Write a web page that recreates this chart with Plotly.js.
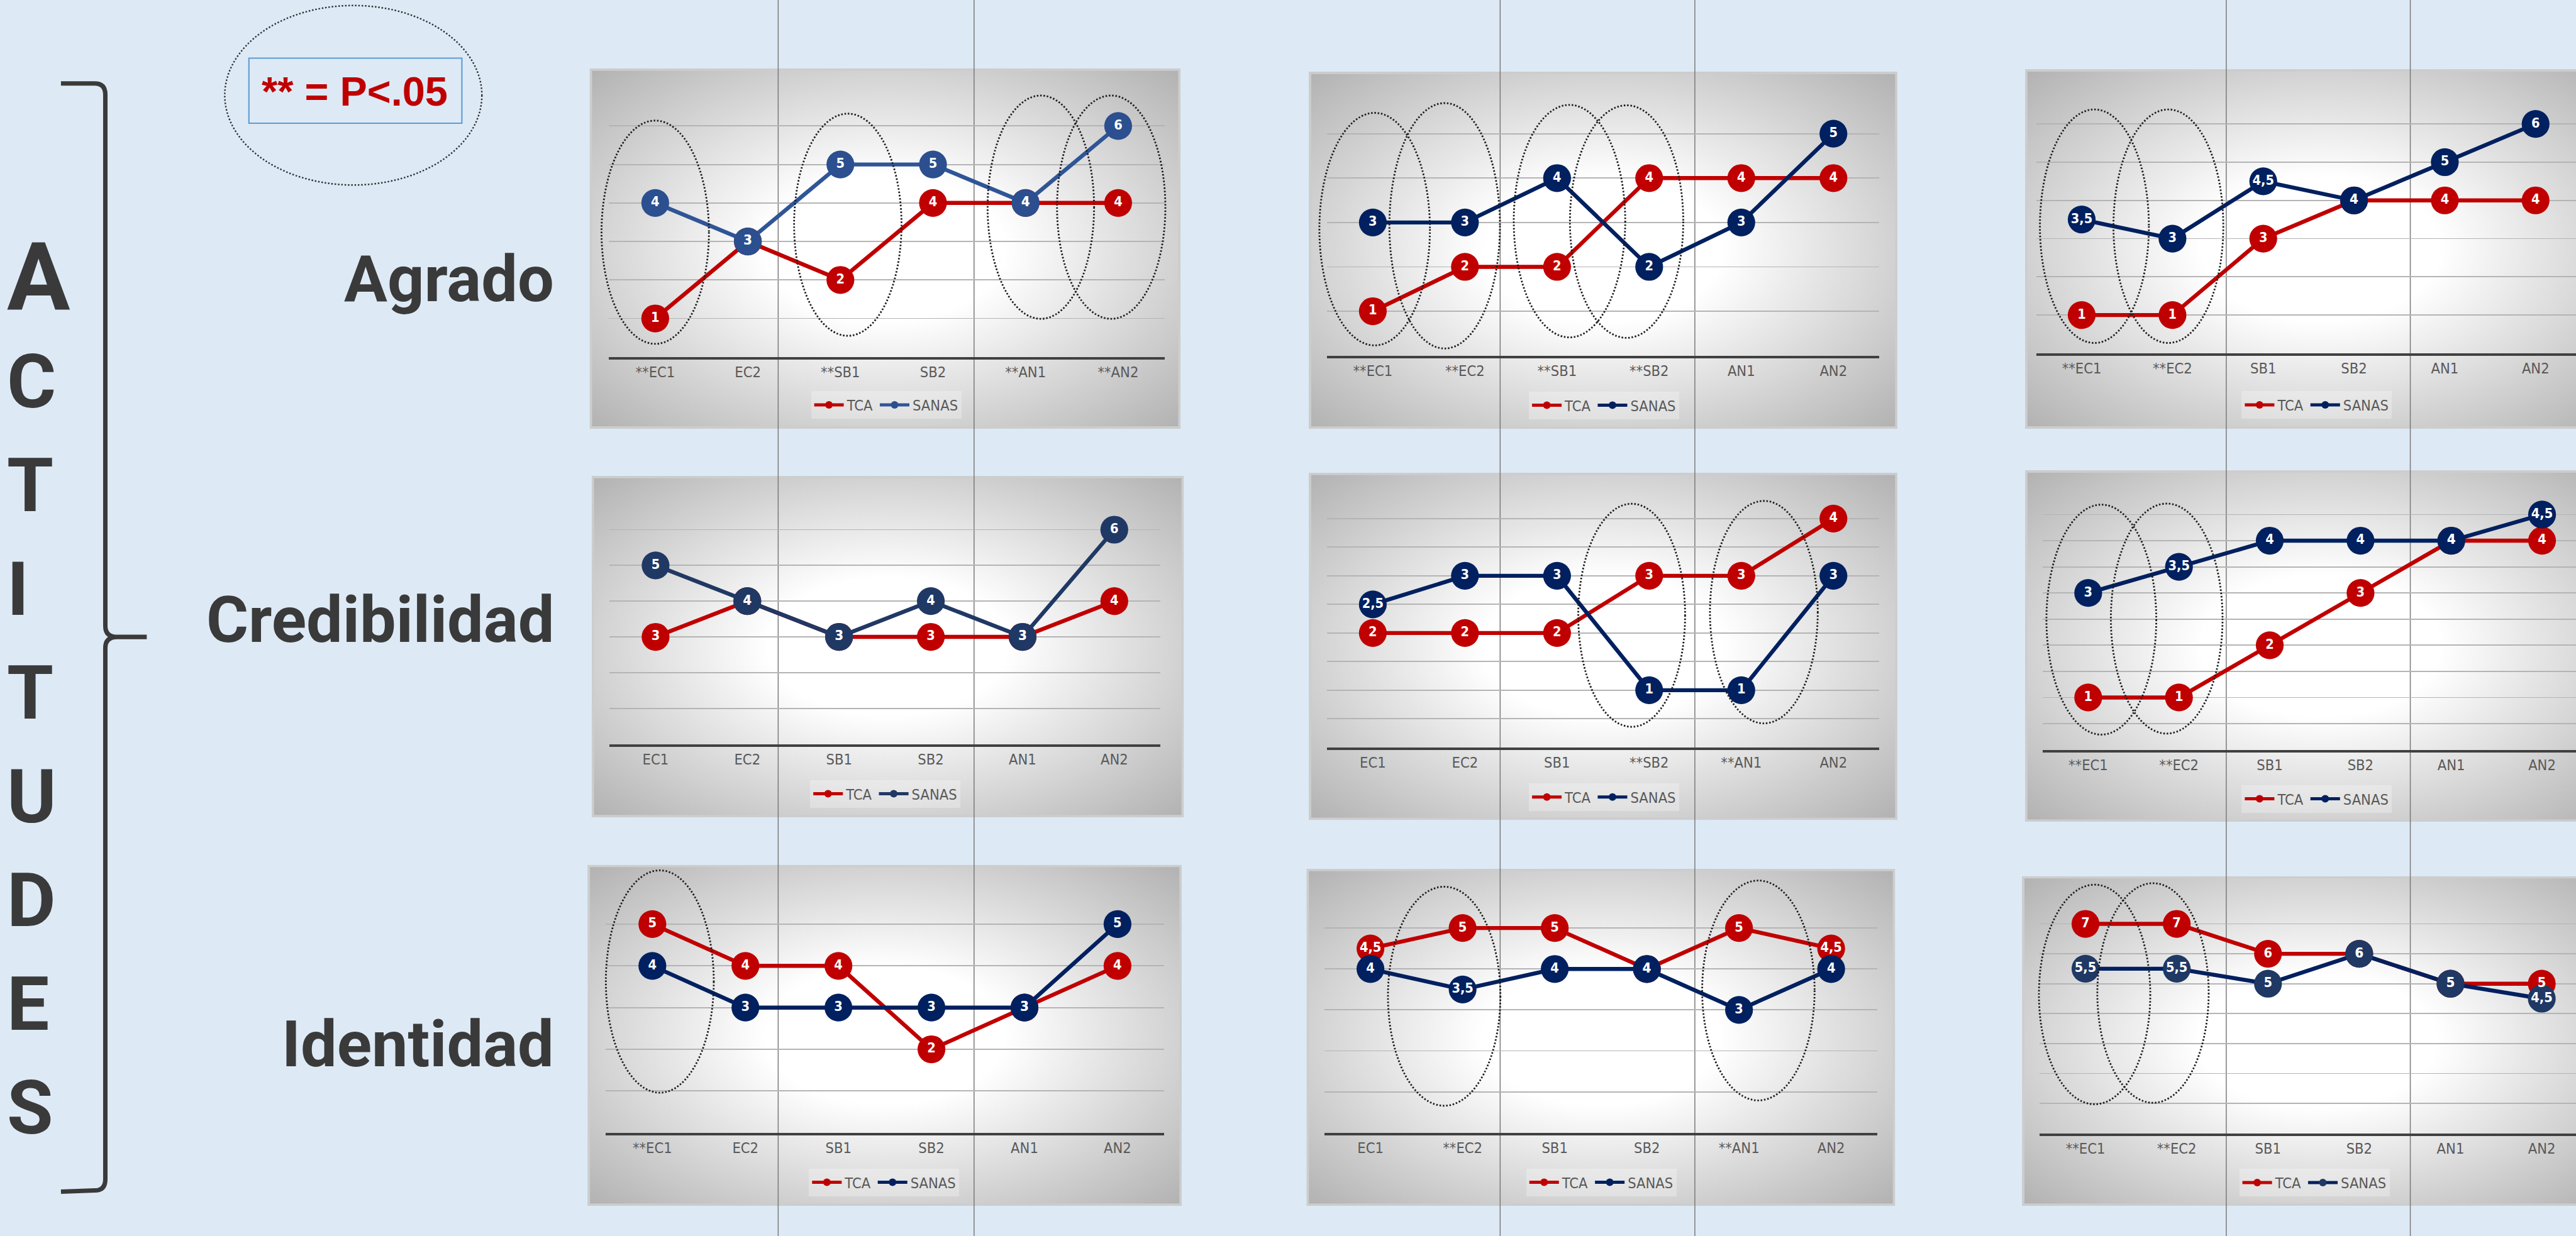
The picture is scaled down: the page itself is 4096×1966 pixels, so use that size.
<!DOCTYPE html>
<html><head><meta charset="utf-8">
<script src="https://cdn.plot.ly/plotly-3.0.1.min.js"></script>
<style>html,body{margin:0;padding:0;background:#DDEAF6;overflow:hidden}#chart{width:4096px;height:1966px}</style>
</head><body><div id="chart"></div>
<script>
// ---------- data ----------
const seriesNames = ["TCA", "SANAS"];
const rowLabels = ["Agrado", "Credibilidad", "Identidad"];
const sideTitle = "ACTITUDES";
const noteText = "** = P<.05";

const catsAgrado1 = ["**EC1","EC2","**SB1","SB2","**AN1","**AN2"];
const tcaAgrado1 = [1,3,2,4,4,4];
const sanasAgrado1 = [4,3,5,5,4,6];
const catsAgrado2 = ["**EC1","**EC2","**SB1","**SB2","AN1","AN2"];
const tcaAgrado2 = [1,2,2,4,4,4];
const sanasAgrado2 = [3,3,4,2,3,5];
const catsAgrado3 = ["**EC1","**EC2","SB1","SB2","AN1","AN2"];
const tcaAgrado3 = [1,1,3,4,4,4];
const sanasAgrado3 = [3.5,3,4.5,4,5,6];

const catsCred1 = ["EC1","EC2","SB1","SB2","AN1","AN2"];
const tcaCred1 = [3,4,3,3,3,4];
const sanasCred1 = [5,4,3,4,3,6];
const catsCred2 = ["EC1","EC2","SB1","**SB2","**AN1","AN2"];
const tcaCred2 = [2,2,2,3,3,4];
const sanasCred2 = [2.5,3,3,1,1,3];
const catsCred3 = ["**EC1","**EC2","SB1","SB2","AN1","AN2"];
const tcaCred3 = [1,1,2,3,4,4];
const sanasCred3 = [3,3.5,4,4,4,4.5];

const catsIdent1 = ["**EC1","EC2","SB1","SB2","AN1","AN2"];
const tcaIdent1 = [5,4,4,2,3,4];
const sanasIdent1 = [4,3,3,3,3,5];
const catsIdent2 = ["EC1","**EC2","SB1","SB2","**AN1","AN2"];
const tcaIdent2 = [4.5,5,5,4,5,4.5];
const sanasIdent2 = [4,3.5,4,4,3,4];
const catsIdent3 = ["**EC1","**EC2","SB1","SB2","AN1","AN2"];
const tcaIdent3 = [7,7,6,6,5,5];
const sanasIdent3 = [5.5,5.5,5,6,5,4.5];

// ---------- layout helpers (reference pixel space 4353 x 2089) ----------
const W = 4353, H = 2089, S = 4096 / 4353;
const X = px => px / W;
const Y = py => 1 - py / H;
const RED = '#C00000';
const NAVY = '#002060';
const FN = "'DejaVu Sans Condensed', 'Liberation Sans Narrow', 'Liberation Sans', sans-serif";
const FB = "Roboto, 'Liberation Sans', sans-serif";
const fmt = v => String(v).replace('.', ',');

const panels = [
  {cats:catsAgrado1, tca:tcaAgrado1, sanas:sanasAgrado1, plot:[1029,1967.7,147.8,603.3], ymax:7, dtick:1, xmax:5.5,
   box:[996.5,1995,115.5,724.5], leg:[1497.5,684.5], sl:'#2F5597', sm:'#2B4F8F',
   ell:[[-0.58,0.58,0.34,6.14],[1.50,2.66,0.55,6.32],[3.59,4.74,0.99,6.79],[4.34,5.51,0.99,6.79]]},
  {cats:catsAgrado2, tca:tcaAgrado2, sanas:sanasAgrado2, plot:[2242,3176,151,601], ymax:6, dtick:1, xmax:5.5,
   box:[2211.8,3206.4,121.2,724.7], leg:[2710.6,685], sl:NAVY, sm:NAVY,
   ell:[[-0.58,0.62,0.23,5.47],[0.18,1.38,0.16,5.69],[1.53,2.74,0.41,5.65],[2.14,3.37,0.40,5.64]]},
  {cats:catsAgrado3, tca:tcaAgrado3, sanas:sanasAgrado3, plot:[3441,4353,144.9,597.1], ymax:7, dtick:1, xmax:5.445,
   box:[3422,4420,117,724.5], leg:[3915,684.5], sl:NAVY, sm:NAVY,
   ell:[[-0.46,0.74,0.27,6.38],[0.35,1.56,0.27,6.38]]},
  {cats:catsCred1, tca:tcaCred1, sanas:sanasCred1, plot:[1030.3,1960.5,834.8,1257.6], ymax:7, dtick:1, xmax:5.5,
   box:[999.8,2000.4,804.5,1381.2], leg:[1496,1341.8], sl:'#203864', sm:'#203864', ell:[]},
  {cats:catsCred2, tca:tcaCred2, sanas:sanasCred2, plot:[2242,3176,828.2,1263.2], ymax:4.5, dtick:0.5, xmax:5.5,
   box:[2211.8,3206.4,799,1385.8], leg:[2710.6,1347.4], sl:NAVY, sm:NAVY,
   ell:[[2.23,3.39,0.36,4.26],[3.66,4.83,0.42,4.31]]},
  {cats:catsCred3, tca:tcaCred3, sanas:sanasCred3, plot:[3452,4353,825.5,1267.2], ymax:5, dtick:0.5, xmax:5.374,
   box:[3422,4420,795,1388.9], leg:[3915,1350.2], sl:NAVY, sm:NAVY,
   ell:[[-0.46,0.75,0.29,4.69],[0.25,1.48,0.31,4.71]]},
  {cats:catsIdent1, tca:tcaIdent1, sanas:sanasIdent1, plot:[1023.8,1967,1491.4,1914.5], ymax:6, dtick:1, xmax:5.5,
   box:[993,1997,1461.7,2037.9], leg:[1494,1998.3], sl:NAVY, sm:NAVY,
   ell:[[-0.5,0.66,0.96,6.29]]},
  {cats:catsIdent2, tca:tcaIdent2, sanas:sanasIdent2, plot:[2238,3172.2,1499.3,1914.5], ymax:6, dtick:1, xmax:5.5,
   box:[2207.9,3202.4,1468.5,2037.9], leg:[2706,1998.3], sl:NAVY, sm:NAVY,
   ell:[[0.19,1.41,0.66,6.01],[3.60,4.82,0.79,6.16]]},
  {cats:catsIdent3, tca:tcaIdent3, sanas:sanasIdent3, plot:[3447,4353,1510.9,1915.4], ymax:8, dtick:1, xmax:5.375,
   box:[3417,4415,1481,2037.8], leg:[3911,1998.8], sl:NAVY, sm:'#1F3864',
   ell:[[-0.51,0.71,0.97,8.31],[0.13,1.35,1.02,8.36]]}
];

const gradSvg = "<svg xmlns='http://www.w3.org/2000/svg' width='1000' height='600' viewBox='0 0 1000 600' preserveAspectRatio='none'>" +
  "<defs><radialGradient id='g' cx='0.5' cy='0.5' r='0.72'>" +
  "<stop offset='0' stop-color='#ffffff'/><stop offset='0.28' stop-color='#ffffff'/><stop offset='1' stop-color='#afafaf'/>" +
  "</radialGradient></defs><rect x='0' y='0' width='1000' height='600' fill='url(#g)'/>" +
  "<rect x='2' y='2' width='996' height='596' fill='none' stroke='#cdcdcd' stroke-width='4'/></svg>";
const GRAD = 'data:image/svg+xml;charset=utf-8,' + encodeURIComponent(gradSvg);

const traces = [];
const shapes = [];
const images = [];
const annotations = [];
const layout = {
  width: 4096, height: 1966, margin: {l:0, r:0, t:0, b:0, pad:0},
  paper_bgcolor: '#DDEAF6', plot_bgcolor: 'rgba(0,0,0,0)',
  font: {family: FN, color: '#595959', size: 24 * S},
  hovermode: false, showlegend: true
};

panels.forEach((p, i) => {
  const n = i === 0 ? '' : String(i + 1);
  const xa = 'x' + n, ya = 'y' + n;
  const lg = i === 0 ? 'legend' : 'legend' + (i + 1);
  const common = {type:'scatter', x:p.cats, xaxis:xa, yaxis:ya, cliponaxis:false, hoverinfo:'skip'};
  traces.push(Object.assign({}, common, {mode:'lines+markers', y:p.tca, name:seriesNames[0], legend:lg,
    line:{color:RED, width:6.8*S}, marker:{color:RED, size:47*S}}));
  traces.push(Object.assign({}, common, {mode:'lines+markers', y:p.sanas, name:seriesNames[1], legend:lg,
    line:{color:p.sl, width:6.8*S}, marker:{color:p.sm, size:47*S}}));
  const tf = {family:FN, size:23*S, color:'#ffffff', weight:'bold'};
  traces.push(Object.assign({}, common, {mode:'text', y:p.tca, text:p.tca.map(fmt), textposition:'middle center',
    textfont:tf, showlegend:false}));
  traces.push(Object.assign({}, common, {mode:'text', y:p.sanas, text:p.sanas.map(fmt), textposition:'middle center',
    textfont:tf, showlegend:false}));

  layout['xaxis' + n] = {domain:[X(p.plot[0]), X(p.plot[1])], anchor:ya, type:'category',
    categoryorder:'array', categoryarray:p.cats, range:[-0.5, p.xmax],
    showgrid:false, zeroline:false, showline:true, linecolor:'#404040', linewidth:4.5*S,
    ticks:'', ticklabelstandoff:14*S, tickfont:{family:FN, size:25*S, color:'#595959'}, fixedrange:true};
  layout['yaxis' + n] = {domain:[Y(p.plot[3]), Y(p.plot[2])], anchor:xa, range:[0, p.ymax],
    tick0:0, dtick:p.dtick, showticklabels:false, showgrid:true, gridcolor:'#b4b4b4', gridwidth:2*S,
    zeroline:false, showline:false, fixedrange:true};
  layout[lg] = {x:X(p.leg[0]), y:Y(p.leg[1]), xanchor:'center', yanchor:'middle', orientation:'h',
    font:{family:FN, size:25*S, color:'#595959'}, bgcolor:'rgba(255,255,255,0.28)', borderwidth:0,
    itemsizing:'constant', itemwidth:50*S, traceorder:'normal'};

  images.push({source:GRAD, xref:'paper', yref:'paper', x:X(p.box[0]), y:Y(p.box[2]),
    sizex:(p.box[1] - p.box[0]) / W, sizey:(p.box[3] - p.box[2]) / H,
    sizing:'stretch', xanchor:'left', yanchor:'top', layer:'below'});

  const sp = (p.plot[1] - p.plot[0]) / (p.xmax + 0.5);
  const uy = (p.plot[3] - p.plot[2]) / p.ymax;
  const dx = v => p.plot[0] + (v + 0.5) * sp;
  const dy = v => p.plot[3] - v * uy;
  p.ell.forEach(e => {
    shapes.push({type:'circle', xref:'paper', yref:'paper', x0:X(dx(e[0])), x1:X(dx(e[1])),
      y0:Y(dy(e[2])), y1:Y(dy(e[3])), line:{color:'#1e1e1e', width:3*S, dash:'2.5px,2.8px'},
      fillcolor:'rgba(0,0,0,0)', layer:'above'});
  });
});

// thin vertical guide lines across the page
[1315, 1646, 2535, 2864, 3762, 4073].forEach(vx => {
  shapes.push({type:'line', xref:'paper', yref:'paper', x0:X(vx), x1:X(vx), y0:0, y1:1,
    line:{color:'#7a7a7a', width:1.6*S}, layer:'below'});
});

// curly bracket
const P = (x, y) => X(x).toFixed(6) + ',' + Y(y).toFixed(6);
const bracket = 'M' + P(103,141) + ' L' + P(160,141) + ' Q' + P(178,141) + ' ' + P(178,160) +
  ' L' + P(178,1058) + ' Q' + P(178,1076.5) + ' ' + P(198,1076.5) + ' L' + P(248,1076.5) +
  ' M' + P(198,1076.5) + ' Q' + P(178,1076.5) + ' ' + P(178,1095) +
  ' L' + P(178,1993) + ' Q' + P(178,2012) + ' ' + P(160,2012) + ' L' + P(103,2014);
shapes.push({type:'path', xref:'paper', yref:'paper', path:bracket,
  line:{color:'#3A3A3A', width:7.5*S}, layer:'above'});

// note box and its dotted ellipse
shapes.push({type:'rect', xref:'paper', yref:'paper', x0:X(420.6), x1:X(780.5), y0:Y(98.3), y1:Y(208.3),
  line:{color:'#5B9BD5', width:2.2*S}, fillcolor:'rgba(0,0,0,0)', layer:'above'});
shapes.push({type:'circle', xref:'paper', yref:'paper', x0:X(379.8), x1:X(814.3), y0:Y(9.3), y1:Y(312.7),
  line:{color:'#333333', width:2.6*S, dash:'2.5px,2.8px'}, fillcolor:'rgba(0,0,0,0)', layer:'above'});
annotations.push({xref:'paper', yref:'paper', x:X(599.5), y:Y(155), xanchor:'center', yanchor:'middle',
  text:noteText, showarrow:false, font:{family:"'Liberation Sans', sans-serif", size:69*S, color:RED, weight:'bold'}});

// side title letters
const letterY0 = 469.6, letterStep = 175.3;
sideTitle.split('').forEach((ch, k) => {
  annotations.push({xref:'paper', yref:'paper', x:X(10), y:Y(letterY0 + k * letterStep), xanchor:'left', yanchor:'middle',
    text:ch, showarrow:false, font:{family:FB, size:(k === 0 ? 159 : 127) * S, color:'#3A3A3A', weight:'bold'}});
});

// row labels
const rowY = [471.7, 1048, 1765];
rowLabels.forEach((t, r) => {
  annotations.push({xref:'paper', yref:'paper', x:X(938), y:Y(rowY[r]), xanchor:'right', yanchor:'middle',
    text:t, showarrow:false, font:{family:FB, size:109 * S, color:'#3A3A3A', weight:'bold'}});
});

layout.shapes = shapes;
layout.images = images;
layout.annotations = annotations;

Plotly.newPlot('chart', traces, layout, {staticPlot:true, displayModeBar:false, responsive:false});
</script>
</body></html>
